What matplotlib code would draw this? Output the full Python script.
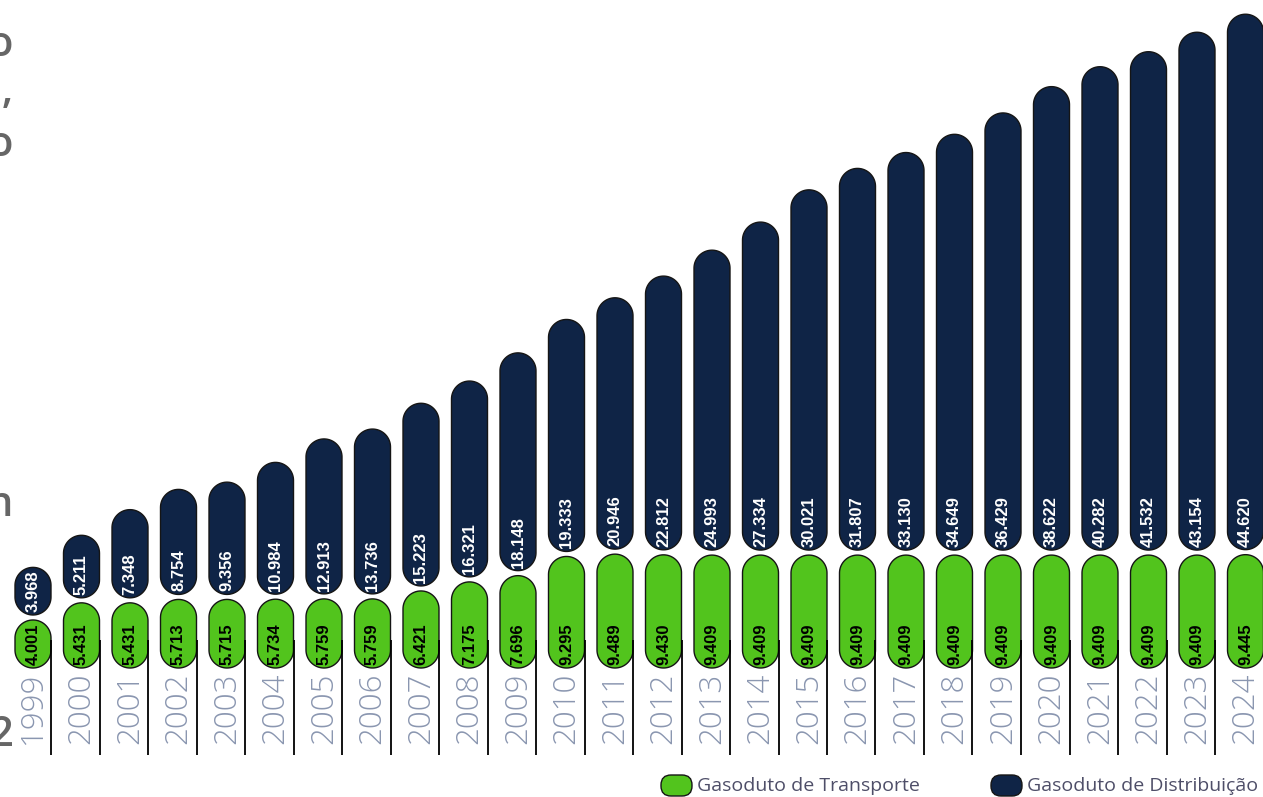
import matplotlib
matplotlib.use('Agg')
import numpy as np
import matplotlib.pyplot as plt
from matplotlib.patches import FancyBboxPatch, Polygon

# ---------------- data ----------------
years = [str(y) for y in range(1999, 2025)]
transporte = [4001, 5431, 5431, 5713, 5715, 5734, 5759, 5759, 6421, 7175, 7696,
              9295, 9489, 9430, 9409, 9409, 9409, 9409, 9409, 9409, 9409, 9409,
              9409, 9409, 9409, 9445]
distribuicao = [3968, 5211, 7348, 8754, 9356, 10984, 12913, 13736, 15223, 16321,
                18148, 19333, 20946, 22812, 24993, 27334, 30021, 31807, 33130,
                34649, 36429, 38622, 40282, 41532, 43154, 44620]
legend_labels = ["Gasoduto de Transporte", "Gasoduto de Distribuição"]
edge_letters = ["o", ",", "o", "n", "2"]

# ---------------- style ----------------
W, H = 1263, 797
GREEN = '#52c41d'
NAVY = '#0f2446'
EDGE = '#151515'
YEAR_C = '#8a96b0'
LEG_C = '#4e4e68'

S = 0.012          # pixels per data unit (vertical)
SX = 48.5          # pixels per category
BASE = 668         # pixel row of zero line
X0 = 33            # pixel column of first bar centre
BW = 36 / SX       # bar width in category units
GAP = 5 / S
ASPECT = SX / S
LBL_FONT = ['Liberation Sans', 'DejaVu Sans']

def fmt(v):
    return f"{v:,}".replace(',', '.')

fig = plt.figure(figsize=(W / 100, H / 100), dpi=100)
fig.patch.set_facecolor('white')
ax = fig.add_axes([0, 0, 1, 1])
ax.set_xlim(-X0 / SX, (W - X0) / SX)
ax.set_ylim(-(H - BASE) / S, BASE / S)
ax.axis('off')

def pill(axis, xc, y0, w, h, color, aspect, z=2):
    r = w / 2
    ry = min(r * aspect, h / 2)
    tb = np.linspace(np.pi, 2 * np.pi, 40)
    tt = np.linspace(0, np.pi, 40)
    xs = np.concatenate([xc + r * np.cos(tb), xc + r * np.cos(tt)])
    ys = np.concatenate([y0 + ry + ry * np.sin(tb), y0 + h - ry + ry * np.sin(tt)])
    p = Polygon(np.column_stack([xs, ys]), closed=True, facecolor=color,
                edgecolor=EDGE, linewidth=1.0, zorder=z)
    axis.add_patch(p)

for i, (t, d) in enumerate(zip(transporte, distribuicao)):
    pill(ax, i, 0, BW, t, GREEN, ASPECT)
    pill(ax, i, t + GAP, BW, d, NAVY, ASPECT)
    ax.text(i, 3 / S, fmt(t), rotation=90, ha='center', va='bottom',
            fontsize=12, fontweight='bold', color='black',
            family=LBL_FONT, zorder=4)
    ax.text(i, t + GAP + 3 / S, fmt(d), rotation=90, ha='center', va='bottom',
            fontsize=12, fontweight='bold', color='white',
            family=LBL_FONT, zorder=4)
    ax.text(i, -5 / S, years[i], rotation=90, ha='center', va='top',
            fontsize=22.5, color=YEAR_C, family=['Open Sans', 'DejaVu Sans'],
            fontweight='light', zorder=4)
    ax.vlines(i + BW / 2, -87 / S, 28 / S, color='black', linewidth=1.3, zorder=5)

# overlay in pixel coordinates for legend and clipped edge text
ov = fig.add_axes([0, 0, 1, 1])
ov.set_xlim(0, W)
ov.set_ylim(H, 0)
ov.axis('off')
ov.patch.set_alpha(0)

leg_x = [661, 991]
for lx, col, lab in zip(leg_x, [GREEN, NAVY], legend_labels):
    p = FancyBboxPatch((lx, 775), 31, 21,
                       boxstyle="round,pad=0,rounding_size=10",
                       facecolor=col, edgecolor=EDGE, linewidth=1.0)
    ov.add_patch(p)
    ov.text(lx + 36, 786, lab, ha='left', va='center', fontsize=14,
            color=LEG_C, family=['Open Sans', 'DejaVu Sans'])

edge_y = [45, 92, 145, 505, 735]
for ch, yy in zip(edge_letters, edge_y):
    ov.text(13, yy, ch, ha='right', va='center', fontsize=30, color='#666666',
            family=['Open Sans', 'DejaVu Sans'], fontweight='semibold')

fig.savefig('out.png', dpi=100, facecolor='white')
